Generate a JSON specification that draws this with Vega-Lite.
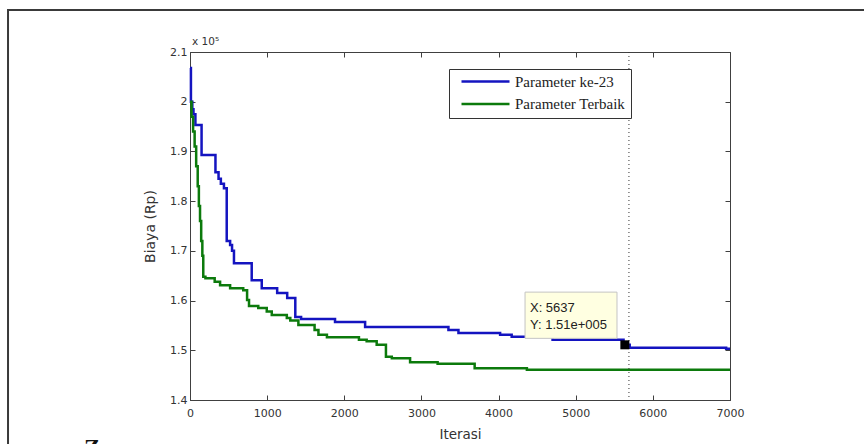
{
  "$schema": "https://vega.github.io/schema/vega-lite/v6.json",
  "width": 540,
  "height": 348,
  "autosize": {"type": "none"},
  "padding": {"left": 190, "top": 52, "right": 134, "bottom": 44},
  "background": "white",
  "datasets": {
    "cost": [
      {"iter": 0, "cost": 2.068, "series": "Parameter ke-23"},
      {"iter": 12, "cost": 2.0, "series": "Parameter ke-23"},
      {"iter": 30, "cost": 1.985, "series": "Parameter ke-23"},
      {"iter": 45, "cost": 1.975, "series": "Parameter ke-23"},
      {"iter": 70, "cost": 1.953, "series": "Parameter ke-23"},
      {"iter": 150, "cost": 1.893, "series": "Parameter ke-23"},
      {"iter": 330, "cost": 1.858, "series": "Parameter ke-23"},
      {"iter": 370, "cost": 1.845, "series": "Parameter ke-23"},
      {"iter": 400, "cost": 1.835, "series": "Parameter ke-23"},
      {"iter": 440, "cost": 1.826, "series": "Parameter ke-23"},
      {"iter": 476, "cost": 1.72, "series": "Parameter ke-23"},
      {"iter": 520, "cost": 1.712, "series": "Parameter ke-23"},
      {"iter": 545, "cost": 1.7, "series": "Parameter ke-23"},
      {"iter": 570, "cost": 1.675, "series": "Parameter ke-23"},
      {"iter": 800, "cost": 1.641, "series": "Parameter ke-23"},
      {"iter": 930, "cost": 1.625, "series": "Parameter ke-23"},
      {"iter": 1130, "cost": 1.615, "series": "Parameter ke-23"},
      {"iter": 1260, "cost": 1.605, "series": "Parameter ke-23"},
      {"iter": 1365, "cost": 1.567, "series": "Parameter ke-23"},
      {"iter": 1440, "cost": 1.563, "series": "Parameter ke-23"},
      {"iter": 1880, "cost": 1.557, "series": "Parameter ke-23"},
      {"iter": 2270, "cost": 1.547, "series": "Parameter ke-23"},
      {"iter": 3350, "cost": 1.541, "series": "Parameter ke-23"},
      {"iter": 3480, "cost": 1.535, "series": "Parameter ke-23"},
      {"iter": 4020, "cost": 1.531, "series": "Parameter ke-23"},
      {"iter": 4170, "cost": 1.527, "series": "Parameter ke-23"},
      {"iter": 4700, "cost": 1.521, "series": "Parameter ke-23"},
      {"iter": 5620, "cost": 1.511, "series": "Parameter ke-23"},
      {"iter": 5700, "cost": 1.505, "series": "Parameter ke-23"},
      {"iter": 6950, "cost": 1.503, "series": "Parameter ke-23"},
      {"iter": 7000, "cost": 1.503, "series": "Parameter ke-23"},
      {"iter": 0, "cost": 2.0, "series": "Parameter Terbaik"},
      {"iter": 20, "cost": 1.97, "series": "Parameter Terbaik"},
      {"iter": 40, "cost": 1.94, "series": "Parameter Terbaik"},
      {"iter": 60, "cost": 1.91, "series": "Parameter Terbaik"},
      {"iter": 80, "cost": 1.87, "series": "Parameter Terbaik"},
      {"iter": 100, "cost": 1.83, "series": "Parameter Terbaik"},
      {"iter": 115, "cost": 1.79, "series": "Parameter Terbaik"},
      {"iter": 130, "cost": 1.76, "series": "Parameter Terbaik"},
      {"iter": 145, "cost": 1.72, "series": "Parameter Terbaik"},
      {"iter": 160, "cost": 1.69, "series": "Parameter Terbaik"},
      {"iter": 172, "cost": 1.648, "series": "Parameter Terbaik"},
      {"iter": 200, "cost": 1.645, "series": "Parameter Terbaik"},
      {"iter": 320, "cost": 1.638, "series": "Parameter Terbaik"},
      {"iter": 390, "cost": 1.631, "series": "Parameter Terbaik"},
      {"iter": 520, "cost": 1.625, "series": "Parameter Terbaik"},
      {"iter": 690, "cost": 1.621, "series": "Parameter Terbaik"},
      {"iter": 740, "cost": 1.601, "series": "Parameter Terbaik"},
      {"iter": 765, "cost": 1.589, "series": "Parameter Terbaik"},
      {"iter": 885, "cost": 1.585, "series": "Parameter Terbaik"},
      {"iter": 995, "cost": 1.578, "series": "Parameter Terbaik"},
      {"iter": 1060, "cost": 1.571, "series": "Parameter Terbaik"},
      {"iter": 1255, "cost": 1.565, "series": "Parameter Terbaik"},
      {"iter": 1300, "cost": 1.56, "series": "Parameter Terbaik"},
      {"iter": 1405, "cost": 1.551, "series": "Parameter Terbaik"},
      {"iter": 1615, "cost": 1.541, "series": "Parameter Terbaik"},
      {"iter": 1665, "cost": 1.531, "series": "Parameter Terbaik"},
      {"iter": 1775, "cost": 1.526, "series": "Parameter Terbaik"},
      {"iter": 2190, "cost": 1.521, "series": "Parameter Terbaik"},
      {"iter": 2290, "cost": 1.518, "series": "Parameter Terbaik"},
      {"iter": 2420, "cost": 1.511, "series": "Parameter Terbaik"},
      {"iter": 2540, "cost": 1.487, "series": "Parameter Terbaik"},
      {"iter": 2616, "cost": 1.484, "series": "Parameter Terbaik"},
      {"iter": 2853, "cost": 1.476, "series": "Parameter Terbaik"},
      {"iter": 3210, "cost": 1.473, "series": "Parameter Terbaik"},
      {"iter": 3690, "cost": 1.464, "series": "Parameter Terbaik"},
      {"iter": 4367, "cost": 1.461, "series": "Parameter Terbaik"},
      {"iter": 7000, "cost": 1.461, "series": "Parameter Terbaik"}
    ],
    "tipbox": [{"x": 4343, "x2": 5535, "y": 1.617, "y2": 1.524}],
    "tiptext": [
      {"x": 4407, "y": 1.585, "label": "X: 5637"},
      {"x": 4407, "y": 1.551, "label": "Y: 1.51e+005"}
    ],
    "marker": [{"iter": 5637, "cost": 1.511}],
    "cursor": [{"iter": 5690}],
    "one": [{}]
  },
  "layer": [
    {
      "data": {"name": "one"},
      "mark": {"type": "rect", "filled": false, "stroke": "#3a3a3a", "strokeWidth": 2},
      "encoding": {
        "x": {"datum": -2359, "type": "quantitative", "scale": {"domain": [0, 7000], "nice": false}, "axis": null},
        "x2": {"datum": 9400},
        "y": {"datum": 2.1845, "type": "quantitative", "scale": {"domain": [1.4, 2.1], "nice": false, "zero": false}, "axis": null},
        "y2": {"datum": 1.25}
      }
    },
    {
      "data": {"name": "cost"},
      "mark": {"type": "line", "interpolate": "step-after", "strokeWidth": 2.5},
      "encoding": {
        "x": {"field": "iter", "type": "quantitative", "scale": {"domain": [0, 7000], "nice": false},
          "axis": {"orient": "bottom", "values": [0, 1000, 2000, 3000, 4000, 5000, 6000, 7000], "format": "d", "title": "Iterasi", "labelPadding": 12, "titlePadding": 9, "titleFontSize": 13.5, "labelFlush": false}},
        "y": {"field": "cost", "type": "quantitative", "scale": {"domain": [1.4, 2.1], "nice": false, "zero": false},
          "axis": {"orient": "left", "values": [1.4, 1.5, 1.6, 1.7, 1.8, 1.9, 2.0, 2.1], "format": "~g", "title": "Biaya (Rp)", "labelPadding": 8, "titlePadding": 12, "titleFontSize": 14, "labelFlush": false}},
        "color": {"field": "series", "type": "nominal",
          "scale": {"domain": ["Parameter ke-23", "Parameter Terbaik"], "range": ["#1414c0", "#0c7a0c"]},
          "legend": {"title": null, "orient": "none", "legendX": 259, "legendY": 17, "direction": "vertical",
            "symbolType": "stroke", "symbolSize": 2304, "symbolStrokeWidth": 2.5, "clipHeight": 15, "rowPadding": 6.6,
            "padding": 5, "symbolOffset": 6, "labelOffset": 4, "labelFont": "Liberation Serif", "labelFontSize": 15,
            "labelColor": "#222222", "strokeColor": "#333333", "fillColor": "white", "labelLimit": 300}}
      }
    },
    {
      "data": {"name": "tipbox"},
      "mark": {"type": "rect", "fill": "#ffffe1", "stroke": "#c4c4c4", "strokeWidth": 1},
      "encoding": {
        "x": {"field": "x", "type": "quantitative", "scale": {"domain": [0, 7000], "nice": false},
          "axis": {"orient": "top", "labels": false, "domain": false, "title": null, "values": [0, 1000, 2000, 3000, 4000, 5000, 6000, 7000]}},
        "x2": {"field": "x2"},
        "y": {"field": "y", "type": "quantitative", "scale": {"domain": [1.4, 2.1], "nice": false, "zero": false},
          "axis": {"orient": "right", "labels": false, "domain": false, "title": null, "values": [1.4, 1.5, 1.6, 1.7, 1.8, 1.9, 2.0, 2.1]}},
        "y2": {"field": "y2"}
      }
    },
    {
      "data": {"name": "tiptext"},
      "mark": {"type": "text", "align": "left", "baseline": "middle", "font": "Liberation Sans", "fontSize": 13, "color": "#222222"},
      "encoding": {
        "x": {"field": "x", "type": "quantitative", "axis": null},
        "y": {"field": "y", "type": "quantitative", "axis": null},
        "text": {"field": "label"}
      }
    },
    {
      "data": {"name": "cursor"},
      "mark": {"type": "rule", "color": "#333333", "strokeWidth": 1, "strokeDash": [1, 3]},
      "encoding": {
        "x": {"field": "iter", "type": "quantitative", "axis": null}
      }
    },
    {
      "data": {"name": "marker"},
      "mark": {"type": "point", "shape": "square", "filled": true, "color": "#000000", "size": 81, "opacity": 1},
      "encoding": {
        "x": {"field": "iter", "type": "quantitative", "axis": null},
        "y": {"field": "cost", "type": "quantitative", "axis": null}
      }
    },
    {
      "data": {"name": "one"},
      "mark": {"type": "text", "text": "x 10⁵", "font": "DejaVu Sans", "fontSize": 10.5, "baseline": "alphabetic", "align": "left", "color": "#333333"},
      "encoding": {
        "x": {"datum": 26, "type": "quantitative", "axis": null},
        "y": {"datum": 2.114, "type": "quantitative", "axis": null}
      }
    },
    {
      "data": {"name": "one"},
      "mark": {"type": "text", "text": "Z", "font": "Liberation Serif", "fontWeight": "bold", "fontSize": 24, "baseline": "top", "align": "center", "color": "#111111"},
      "encoding": {
        "x": {"datum": -1270, "type": "quantitative", "axis": null},
        "y": {"datum": 1.327, "type": "quantitative", "axis": null}
      }
    }
  ],
  "resolve": {"axis": {"x": "independent", "y": "independent"}},
  "config": {
    "view": {"stroke": "#404040", "strokeWidth": 1},
    "axis": {"domainColor": "#404040", "tickColor": "#404040", "labelColor": "#333333", "labelFont": "DejaVu Sans", "labelFontSize": 11,
      "tickSize": -5, "grid": false, "titleFont": "DejaVu Sans", "titleFontWeight": "normal", "titleColor": "#333333"}
  }
}
